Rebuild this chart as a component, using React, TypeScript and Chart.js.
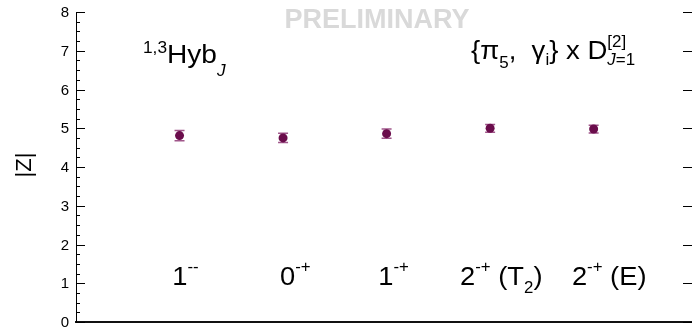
import React, { useEffect, useRef } from "react";
import { Chart, registerables } from "chart.js";

Chart.register(...registerables);

// ---- data ----
const categoryX = [1, 2, 3, 4, 5];
const zValues = [4.81, 4.75, 4.86, 5.0, 4.98];
const zErrors = [0.13, 0.12, 0.12, 0.1, 0.1];
const yMajorTicks = [0, 1, 2, 3, 4, 5, 6, 7, 8];
const yMinorStep = 0.25;
// annotation anchors (data coordinates, left edge of each label)
const labelX = [0.93, 1.97, 2.92, 3.71, 4.79];
const labelY = 0.95;

type Part = { t: string; s?: number; dy?: number; it?: boolean; stack?: boolean };

const SUP = 16;
const categoryLabels: Part[][] = [
  [{ t: "1" }, { t: "--", s: SUP, dy: -13 }],
  [{ t: "0" }, { t: "-+", s: SUP, dy: -13 }],
  [{ t: "1" }, { t: "-+", s: SUP, dy: -13 }],
  [{ t: "2" }, { t: "-+", s: SUP, dy: -13 }, { t: " (T" }, { t: "2", s: SUP, dy: 8 }, { t: ")" }],
  [{ t: "2" }, { t: "-+", s: SUP, dy: -13 }, { t: " (E)" }],
];
const leftTitle: Part[] = [
  { t: "1,3", s: SUP, dy: -10 },
  { t: "Hyb" },
  { t: "J", s: SUP, it: true, dy: 13 },
];
const rightTitle: Part[] = [
  { t: "{\u03c0" },
  { t: "5", s: SUP, dy: 9 },
  { t: ",  \u03b3" },
  { t: "i", s: SUP, dy: 6 },
  { t: "} x D" },
  { t: "[2]", s: SUP, dy: -12 },
  { t: "J", s: SUP, it: true, dy: 6, stack: true },
  { t: "=1", s: SUP, dy: 6 },
];
const yTitle = "|Z|";
const watermark = "PRELIMINARY";

const FONT = '"Liberation Sans", Arial, Helvetica, sans-serif';
const BASE = 26;

function drawRich(
  ctx: CanvasRenderingContext2D,
  parts: Part[],
  x: number,
  y: number,
  stretch: number
) {
  const fonts = parts.map((p) => `${p.it ? "italic " : ""}${p.s ?? BASE}px ${FONT}`);
  ctx.save();
  ctx.translate(x, y);
  ctx.scale(stretch, 1);
  let cx = 0;
  let lastStart = 0;
  ctx.textAlign = "left";
  ctx.textBaseline = "alphabetic";
  parts.forEach((p, i) => {
    ctx.font = fonts[i];
    if (p.stack) cx = lastStart;
    lastStart = cx;
    ctx.fillText(p.t, cx, p.dy ?? 0);
    cx += ctx.measureText(p.t).width;
  });
  ctx.restore();
}

const overlayPlugin = {
  id: "overlay",
  beforeDatasetsDraw(chart: any) {
    const { ctx, scales } = chart;
    const xs = scales.x;
    const ys = scales.y;
    ctx.save();
    ctx.strokeStyle = "#a0568a";
    ctx.lineWidth = 1.5;
    categoryX.forEach((cxv, i) => {
      const px = xs.getPixelForValue(cxv);
      const top = ys.getPixelForValue(zValues[i] + zErrors[i]);
      const bot = ys.getPixelForValue(zValues[i] - zErrors[i]);
      ctx.beginPath();
      ctx.moveTo(px, top);
      ctx.lineTo(px, bot);
      ctx.moveTo(px - 5, top);
      ctx.lineTo(px + 5, top);
      ctx.moveTo(px - 5, bot);
      ctx.lineTo(px + 5, bot);
      ctx.stroke();
    });
    ctx.restore();
  },
  afterDraw(chart: any) {
    const { ctx, scales, chartArea } = chart;
    const xs = scales.x;
    const ys = scales.y;
    ctx.save();
    // ticks inside the frame
    ctx.strokeStyle = "#000";
    ctx.lineWidth = 1;
    const ymin = yMajorTicks[0];
    const ymax = yMajorTicks[yMajorTicks.length - 1];
    for (let v = ymin; v <= ymax + 1e-9; v += yMinorStep) {
      const py = Math.round(ys.getPixelForValue(v)) + 0.5;
      const major = yMajorTicks.some((m) => Math.abs(m - v) < 1e-9);
      const len = major ? 9 : 4;
      ctx.beginPath();
      ctx.moveTo(chartArea.left, py);
      ctx.lineTo(chartArea.left + len, py);
      ctx.stroke();
      if (major) {
        ctx.beginPath();
        ctx.moveTo(chartArea.right, py);
        ctx.lineTo(chartArea.right - 9, py);
        ctx.stroke();
      }
    }

    // y tick labels
    ctx.fillStyle = "#000";
    ctx.font = `15px ${FONT}`;
    ctx.textAlign = "right";
    ctx.textBaseline = "middle";
    yMajorTicks.forEach((v) => {
      ctx.fillText(String(v), chartArea.left - 7, ys.getPixelForValue(v) + 1);
    });

    // watermark
    ctx.fillStyle = "#d9d9d9";
    ctx.font = `bold 27px ${FONT}`;
    ctx.textAlign = "center";
    ctx.textBaseline = "alphabetic";
    ctx.fillText(watermark, 377, 28);

    // titles
    ctx.fillStyle = "#000";
    drawRich(ctx, leftTitle, 143, 63, 1.08);
    drawRich(ctx, rightTitle, 471, 59, 1.06);

    // category labels
    const baseY = ys.getPixelForValue(labelY);
    categoryLabels.forEach((parts, i) => {
      drawRich(ctx, parts, xs.getPixelForValue(labelX[i]), baseY, 1.05);
    });

    // y title
    ctx.save();
    ctx.translate(25, 165);
    ctx.rotate(-Math.PI / 2);
    ctx.font = `22px ${FONT}`;
    ctx.textAlign = "center";
    ctx.textBaseline = "middle";
    ctx.fillText(yTitle, 0, 0);
    ctx.restore();

    ctx.restore();
  },
};

export default function App() {
  const ref = useRef<HTMLCanvasElement | null>(null);
  useEffect(() => {
    document.body.style.margin = "0";
    const canvas = ref.current;
    if (!canvas) return;
    const chart = new Chart(canvas, {
      type: "scatter",
      data: {
        datasets: [
          {
            data: categoryX.map((x, i) => ({ x, y: zValues[i] })),
            backgroundColor: "#6b0d4c",
            borderWidth: 0,
            pointRadius: 4.5,
            pointHoverRadius: 4.5,
          },
        ],
      },
      options: {
        animation: false,
        responsive: false,
        events: [],
        layout: { autoPadding: false, padding: { top: 12, right: 0, left: 0, bottom: 0 } },
        plugins: { legend: { display: false }, tooltip: { enabled: false } },
        scales: {
          x: {
            type: "linear",
            min: 0,
            max: 5.95,
            ticks: { display: false },
            grid: { display: false, drawTicks: false },
            border: { display: true, color: "#111", width: 2 },
            afterFit: (s: any) => {
              s.height = 10;
            },
          },
          y: {
            type: "linear",
            min: 0,
            max: 8,
            ticks: { display: false, stepSize: 1 },
            grid: { display: false, drawTicks: false },
            border: { display: true, color: "#000", width: 1 },
            afterFit: (s: any) => {
              s.width = 76;
            },
          },
        },
      },
      plugins: [overlayPlugin],
    });
    return () => chart.destroy();
  }, []);
  return (
    <div style={{ width: 692, height: 332, background: "#fff" }}>
      <canvas ref={ref} width={692} height={332} style={{ display: "block" }} />
    </div>
  );
}
